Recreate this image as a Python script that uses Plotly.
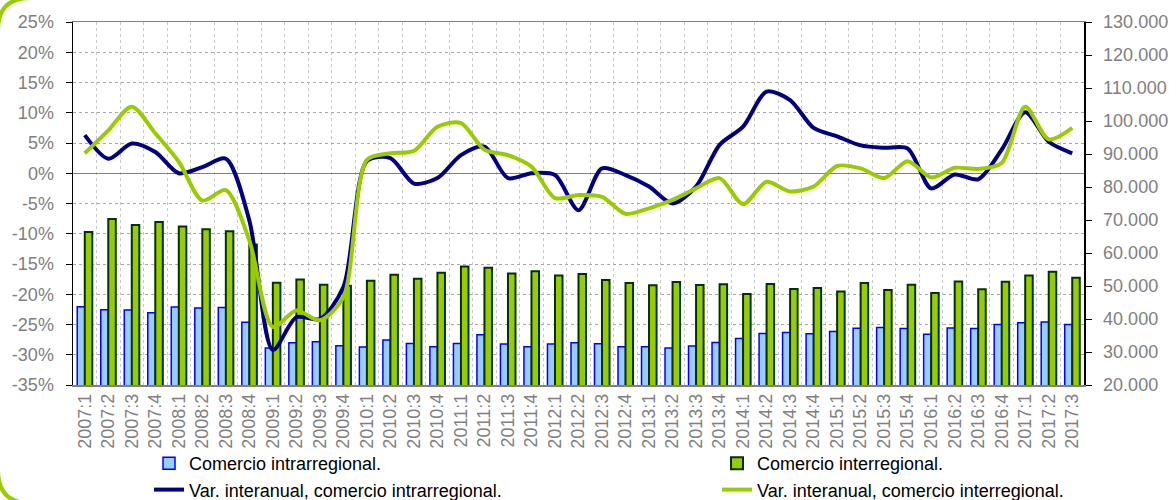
import plotly.graph_objects as go

categories = [
    "2007:1", "2007:2", "2007:3", "2007:4", "2008:1", "2008:2", "2008:3", "2008:4",
    "2009:1", "2009:2", "2009:3", "2009:4", "2010:1", "2010:2", "2010:3", "2010:4",
    "2011:1", "2011:2", "2011:3", "2011:4", "2012:1", "2012:2", "2012:3", "2012:4",
    "2013:1", "2013:2", "2013:3", "2013:4", "2014:1", "2014:2", "2014:3", "2014:4",
    "2015:1", "2015:2", "2015:3", "2015:4", "2016:1", "2016:2", "2016:3", "2016:4",
    "2017:1", "2017:2", "2017:3",
]

comercio_intra = [
    43700, 42800, 42700, 41900, 43600, 43300, 43500, 39000,
    31200, 32800, 33100, 31900, 31500, 33600, 32600, 31600,
    32600, 35200, 32400, 31600, 32400, 32800, 32500, 31600,
    31600, 31200, 31800, 32900, 34100, 35600, 35900, 35500,
    36200, 37200, 37400, 37100, 35400, 37300, 37100, 38300,
    38900, 39100, 38300,
]

comercio_inter = [
    66400, 70300, 68500, 69400, 68000, 67200, 66600, 62600,
    51000, 52000, 50400, 50100, 51600, 53400, 52200, 54000,
    55900, 55500, 53800, 54500, 53200, 53600, 51800, 50900,
    50200, 51200, 50300, 50500, 47600, 50600, 49100, 49400,
    48300, 50900, 48800, 50400, 47900, 51400, 49000, 51300,
    53200, 54300, 52500,
]

var_intra = [
    6.3, 2.4, 4.9, 3.5, 0.0, 1.0, 2.4, -7.8,
    -29.2, -23.8, -24.1, -18.8, 2.0, 2.5, -1.7, -0.8,
    3.0, 4.4, -0.8, 0.0, -0.3, -6.1, 0.8, -0.3,
    -2.2, -5.0, -2.2, 4.7, 7.7, 13.5, 12.1, 7.5,
    6.1, 4.6, 4.2, 4.1, -2.5, -0.2, -1.0, 3.9,
    10.1, 5.2, 3.3,
]

var_inter = [
    3.3, 7.1, 11.0, 6.6, 1.9, -4.5, -2.8, -11.1,
    -25.4, -22.7, -24.3, -20.5, 2.2, 3.3, 3.7, 7.7,
    8.3, 3.9, 3.0, 1.1, -4.1, -3.6, -3.9, -6.7,
    -5.8, -4.4, -2.5, -0.8, -5.1, -1.4, -3.0, -2.2,
    1.2, 0.8, -0.8, 2.0, -0.7, 0.9, 0.7, 1.7,
    11.0, 5.6, 7.5,
]

pct_ticks = [-35, -30, -25, -20, -15, -10, -5, 0, 5, 10, 15, 20, 25]
pct_labels = ["-35%", "-30%", "-25%", "-20%", "-15%", "-10%", "-5%", "0%", "5%", "10%", "15%", "20%", "25%"]
abs_ticks = [20000, 30000, 40000, 50000, 60000, 70000, 80000, 90000, 100000, 110000, 120000, 130000]

FONT = "Liberation Sans, Arial, sans-serif"
GREY = "#808080"

W, H = 1176, 500
ML, MR, MT, MB = 73, 92, 22, 115
PW, PH = W - ML - MR, H - MT - MB


def px(x):
    return (x - ML) / PW


def py(y):
    return (H - MB - y) / PH


fig = go.Figure()

fig.add_trace(go.Bar(
    x=categories, y=comercio_intra, name="Comercio intrarregional.",
    marker=dict(color="#99CCFF", line=dict(color="#0000FF", width=1.5)),
    yaxis="y", legend="legend",
))
fig.add_trace(go.Bar(
    x=categories, y=comercio_inter, name="Comercio interregional.",
    marker=dict(color="#99CC00", line=dict(color="#003300", width=2)),
    yaxis="y", legend="legend2",
))
fig.add_trace(go.Scatter(
    x=categories, y=var_intra, name="Var. interanual, comercio intrarregional.",
    mode="lines", line=dict(color="#000080", width=4, shape="spline", smoothing=0.8),
    yaxis="y2", legend="legend",
))
fig.add_trace(go.Scatter(
    x=categories, y=var_inter, name="Var. interanual, comercio interregional.",
    mode="lines", line=dict(color="#99CC00", width=4, shape="spline", smoothing=0.8),
    yaxis="y2", legend="legend2",
))

corner_top = f"M {px(-2)},{py(30)} Q {px(-2)},{py(-2)} {px(30)},{py(-2)}"
corner_bottom = f"M {px(-2)},{py(470)} Q {px(-2)},{py(503)} {px(30)},{py(503)}"

legend_common = dict(
    orientation="v", xanchor="left", yanchor="top",
    font=dict(family=FONT, size=18, color="#000000"),
    bgcolor="rgba(0,0,0,0)", borderwidth=0, tracegroupgap=0,
)

fig.update_layout(
    width=W, height=H,
    margin=dict(l=ML, r=MR, t=MT, b=MB, autoexpand=False),
    paper_bgcolor="white", plot_bgcolor="white",
    separators=",.",
    barmode="group", bargap=0.36, bargroupgap=0.0,
    font=dict(family=FONT, size=18, color=GREY),
    xaxis=dict(
        type="category", tickangle=-90, tickson="boundaries", automargin=False,
        showgrid=True, gridcolor="#c8c8c8", griddash="dot", gridwidth=1,
        showline=True, linecolor=GREY, linewidth=1.5, mirror=True,
        ticks="", tickfont=dict(family=FONT, size=18, color=GREY),
    ),
    yaxis=dict(
        side="right", range=[20000, 130000], tickvals=abs_ticks, tickformat=",d",
        showgrid=False, zeroline=False, automargin=False,
        showline=True, linecolor="#000000", linewidth=1.5,
        ticks="outside", ticklen=6, tickcolor="#000000", ticklabelstandoff=8,
        tickfont=dict(family=FONT, size=18, color=GREY),
    ),
    yaxis2=dict(
        overlaying="y", side="left", range=[-35, 25],
        tickmode="array", tickvals=pct_ticks, ticktext=pct_labels, automargin=False,
        showgrid=True, gridcolor="#a8a8a8", griddash="dot", gridwidth=1,
        zeroline=True, zerolinecolor=GREY, zerolinewidth=1.5,
        showline=True, linecolor="#000000", linewidth=1.5,
        ticks="outside", ticklen=6, tickcolor="#000000", ticklabelstandoff=8,
        tickfont=dict(family=FONT, size=18, color=GREY),
    ),
    legend=dict(x=px(149), y=py(445), **legend_common),
    legend2=dict(x=px(717), y=py(445), **legend_common),
    showlegend=True,
    shapes=[
        dict(type="path", path=corner_top, xref="paper", yref="paper",
             line=dict(color="#99CC00", width=4), fillcolor="rgba(0,0,0,0)", layer="below"),
        dict(type="path", path=corner_bottom, xref="paper", yref="paper",
             line=dict(color="#99CC00", width=4), fillcolor="rgba(0,0,0,0)", layer="below"),
    ],
)

fig.write_html(
    "out.html",
    config={"displayModeBar": False, "staticPlot": True},
    post_script="document.body.style.margin='0';document.body.style.padding='0';",
)
